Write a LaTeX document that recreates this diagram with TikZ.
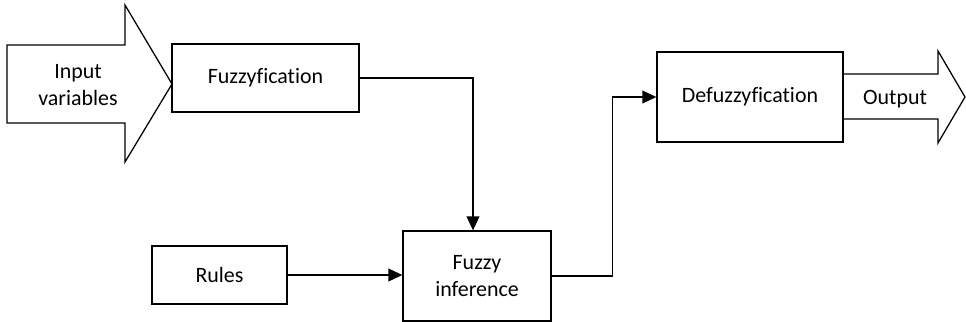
\documentclass[tikz,border=0pt]{standalone}
\usepackage{fontspec}
\setmainfont{Carlito}[Ligatures=NoCommon]
\usetikzlibrary{arrows.meta}
\newcommand{\blkfont}{\fontsize{15.6}{19}\selectfont}
\tikzset{
  blk/.style={draw=black, line width=0.9pt, align=center, font=\blkfont, inner sep=2pt},
  lnk/.style={-{Triangle[length=3.5mm, width=3.2mm]}, line width=1pt},
  fat/.style={draw=black, line width=0.9pt, line join=miter},
  txt/.style={align=center, font=\blkfont, inner sep=1pt},
}
\begin{document}
\begin{tikzpicture}[x=0.025cm, y=-0.025cm]
  \useasboundingbox (0,0) rectangle (966,322);
  % big in/out arrows
  \draw[fat] (7,45) -- (125,45) -- (125,5) -- (172,84) -- (125,162) -- (125,123) -- (7,123) -- cycle;
  \node[txt] (inp) at (78,85) {Input\\variables};
  \draw[fat] (843,74) -- (938,74) -- (938,51) -- (965,97) -- (938,143) -- (938,119) -- (843,119);
  \node[txt] (out) at (895,99) {Output};
  % blocks
  \node[blk, minimum width=4.675cm, minimum height=1.7cm] (fz) at (265.5,78) {Fuzzyfication};
  \node[blk, minimum width=3.375cm, minimum height=1.45cm] (rl) at (219.5,275) {Rules};
  \node[blk, minimum width=3.7cm, minimum height=2.25cm] (fi) at (477,276) {Fuzzy\\inference};
  \node[blk, minimum width=4.65cm, minimum height=2.25cm] (df) at (750,97) {Defuzzyfication};
  % links
  \draw[lnk] (fz.east) -| ([xshift=-0.1cm]fi.north);
  \draw[lnk] (rl.east) -- (rl.east -| fi.west);
  \draw[lnk] (fi.east) -- ++(61,0) |- (df.west);
\end{tikzpicture}
\end{document}
